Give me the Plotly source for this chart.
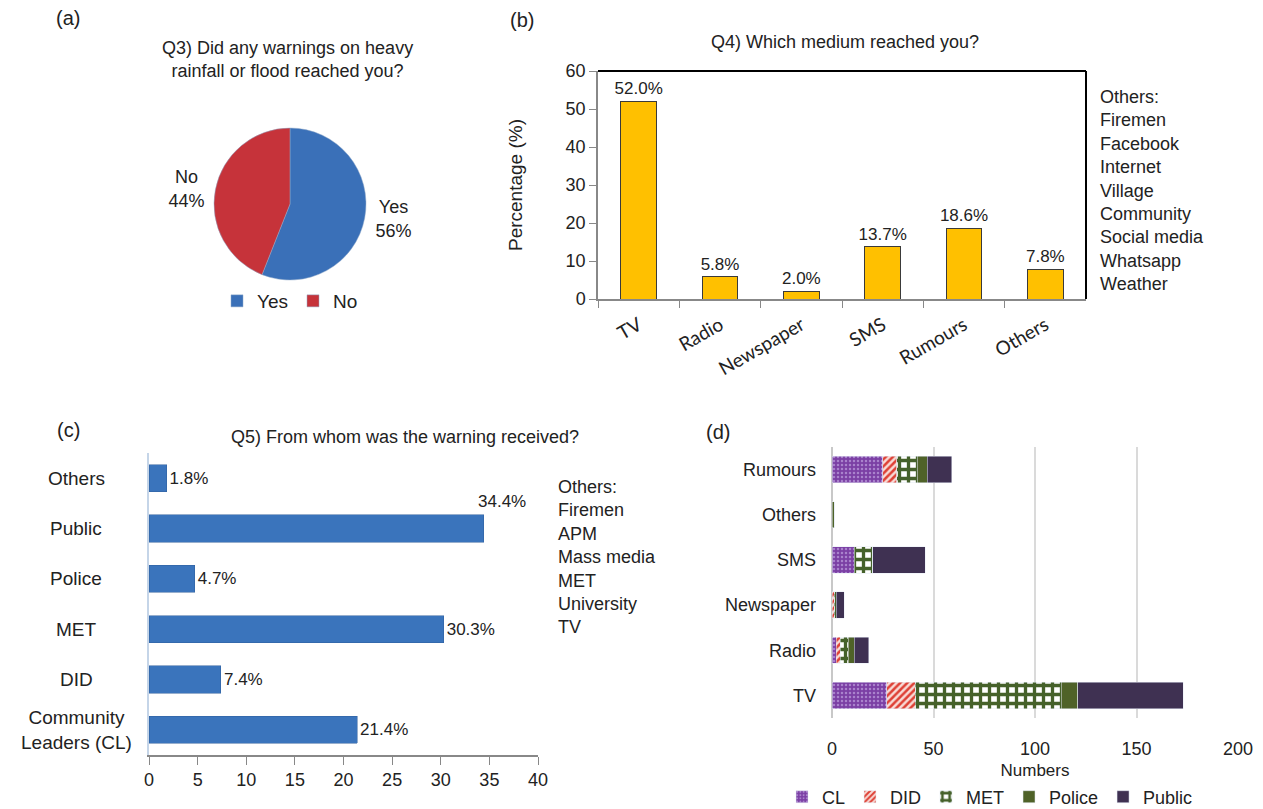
import plotly.graph_objects as go

W, H = 1263, 809

# ---------------- data ----------------
q3_labels = ["Yes", "No"]
q3_values = [56, 44]

q4_media = ["TV", "Radio", "Newspaper", "SMS", "Rumours", "Others"]
q4_pct = [52.0, 5.8, 2.0, 13.7, 18.6, 7.8]
q4_others = ["Others:", "Firemen", "Facebook", "Internet", "Village", "Community",
             "Social media", "Whatsapp", "Weather"]

q5_sources = ["Community<br>Leaders (CL)", "DID", "MET", "Police", "Public", "Others"]
q5_pct = [21.4, 7.4, 30.3, 4.7, 34.4, 1.8]
q5_others = ["Others:", "Firemen", "APM", "Mass media", "MET", "University", "TV"]

d_media = ["TV", "Radio", "Newspaper", "SMS", "Others", "Rumours"]
d_CL = [27, 2, 0, 11, 0, 25]
d_DID = [14, 2, 1, 0, 0, 7]
d_MET = [72, 4, 1, 9, 0, 10]
d_Police = [8, 3, 0, 0, 1, 5]
d_Public = [52, 7, 4, 26, 0, 12]

FONT = "Liberation Sans, Arial, sans-serif"


def px_x(p):
    return p / W


def px_y(p):
    return 1 - p / H


fig = go.Figure()

# ---------------- (a) pie ----------------
fig.add_trace(go.Pie(
    labels=q3_labels, values=q3_values,
    marker=dict(colors=["#3A70B8", "#C6333A"], line=dict(color="#8FA8C8", width=0.5)),
    sort=False, direction="clockwise", rotation=0,
    texttemplate="%{label}<br>%{percent:.0%}",
    textposition="outside",
    textfont=dict(family=FONT, size=18, color="#222"),
    domain=dict(x=[px_x(130), px_x(450)], y=[px_y(280), px_y(128)]),
    legend="legend", showlegend=True, hoverinfo="label+percent",
))

# ---------------- (b) vertical bars ----------------
fig.add_trace(go.Bar(
    x=q4_media, y=q4_pct, xaxis="x", yaxis="y",
    marker=dict(color="#FFC000", line=dict(color="#3a3a3a", width=1)),
    text=[f"{v:.1f}%" for v in q4_pct], textposition="outside", constraintext="none",
    textfont=dict(family=FONT, size=17, color="#222"),
    cliponaxis=False, showlegend=False, width=0.44,
))

# ---------------- (c) horizontal bars ----------------
c_text = [f"{v:.1f}%" if v != max(q5_pct) else "" for v in q5_pct]
fig.add_trace(go.Bar(
    y=q5_sources, x=q5_pct, orientation="h", xaxis="x2", yaxis="y2",
    marker=dict(color="#3A74BC", line=dict(color="#2D5E9C", width=0.5)),
    text=c_text, textposition="outside", constraintext="none",
    textfont=dict(family=FONT, size=17, color="#222"),
    cliponaxis=False, showlegend=False, width=0.54,
))

# ---------------- (d) stacked bars ----------------
d_series = [
    ("CL", d_CL, dict(color="#7B3FA4", pattern=dict(shape=".", fgcolor="#A982CC", fgopacity=1,
                                                     bgcolor="#7B3FA4", size=4, solidity=0.3))),
    ("DID", d_DID, dict(color="#E24B40", pattern=dict(shape="/", fgcolor="#DE4035", fgopacity=1,
                                                       bgcolor="#F8DAD5", size=5, solidity=0.5))),
    ("MET", d_MET, dict(color="#4E6B2A", pattern=dict(shape="+", fgcolor="#45612A", fgopacity=1,
                                                       bgcolor="#FFFFFF", size=9, solidity=0.6))),
    ("Police", d_Police, dict(color="#4F6228")),
    ("Public", d_Public, dict(color="#3F3152")),
]
for name, vals, mk in d_series:
    fig.add_trace(go.Bar(
        y=d_media, x=vals, orientation="h", name=name,
        xaxis="x3", yaxis="y3", marker=mk, width=0.58,
        legend="legend2", showlegend=True,
    ))

axis_font = dict(family=FONT, size=18, color="#222")

fig.update_layout(
    width=W, height=H,
    margin=dict(l=0, r=0, t=0, b=0, autoexpand=False),
    paper_bgcolor="white", plot_bgcolor="white",
    barmode="stack",
    font=dict(family=FONT, size=17, color="#222"),
    # (b)
    xaxis=dict(domain=[px_x(598), px_x(1086)], anchor="y",
               showline=True, linecolor="#888", linewidth=1.5,
               ticks="outside", tickson="boundaries", ticklen=7, tickcolor="#888",
               tickangle=-30, ticklabelstandoff=6,
               tickfont=dict(family="Lato, Open Sans, sans-serif", size=19, color="#222"),
               showgrid=False),
    yaxis=dict(domain=[px_y(299), px_y(71)], anchor="x", range=[0, 60], dtick=10,
               showline=True, linecolor="#888", linewidth=1.5,
               ticks="outside", ticklen=7, tickcolor="#888",
               tickfont=axis_font, showgrid=False, zeroline=False,
               title=dict(text="Percentage (%)", font=dict(family=FONT, size=19), standoff=38)),
    # (c)
    xaxis2=dict(domain=[px_x(149), px_x(538)], anchor="y2", range=[0, 40], dtick=5,
                showline=True, linecolor="#888", linewidth=1.5,
                ticks="outside", ticklen=8, tickcolor="#888",
                tickfont=axis_font, showgrid=False, zeroline=False),
    yaxis2=dict(domain=[px_y(755), px_y(453)], anchor="x2",
                showline=True, linecolor="#C5D5E8", linewidth=1.5,
                ticks="", showticklabels=False, showgrid=False),
    # (d)
    xaxis3=dict(domain=[px_x(832), px_x(1238)], anchor="y3", range=[0, 200], dtick=50,
                showline=False, showgrid=True, gridcolor="#DADADA", gridwidth=1.5,
                zeroline=True, zerolinecolor="#C8C8C8", zerolinewidth=1.5,
                tickfont=axis_font, ticks="", ticklabelstandoff=18,
                title=dict(text="Numbers", font=dict(family=FONT, size=17), standoff=6)),
    yaxis3=dict(domain=[px_y(718), px_y(447)], anchor="x3",
                showline=False, showgrid=False, ticks="", tickfont=axis_font,
                ticksuffix="   "),
    bargap=0.5,
    legend=dict(orientation="h", x=px_x(290), xanchor="center", y=px_y(301), yanchor="middle",
                font=dict(family=FONT, size=19), itemwidth=30, traceorder="normal",
                bgcolor="rgba(0,0,0,0)"),
    legend2=dict(orientation="h", x=px_x(990), xanchor="center", y=px_y(797), yanchor="middle",
                 font=dict(family=FONT, size=18), itemwidth=30, traceorder="normal",
                 bgcolor="rgba(0,0,0,0)"),
)

# black top/right frame of panel (b)
fig.add_shape(type="line", xref="x domain", yref="y domain", x0=0, x1=1, y0=1, y1=1,
              line=dict(color="black", width=2))
fig.add_shape(type="line", xref="x domain", yref="y domain", x0=1, x1=1, y0=0, y1=1,
              line=dict(color="black", width=2))

# 34.4% label above the Public bar
imax = q5_pct.index(max(q5_pct))
fig.add_annotation(x=q5_pct[imax], y=q5_sources[imax], xref="x2", yref="y2",
                   text=f"{q5_pct[imax]:.1f}%", showarrow=False, xanchor="left",
                   yshift=27, xshift=-8, font=dict(family=FONT, size=17, color="#222"))

# centred category labels of panel (c)
for cat in q5_sources:
    fig.add_annotation(x=px_x(76), xref="paper", y=cat, yref="y2", text=cat,
                       showarrow=False, xanchor="center", yanchor="middle", align="center",
                       font=dict(family=FONT, size=19, color="#222"))

ann = []
# panel letters and titles
for txt, x, y, size in [("(a)", 68, 18, 20), ("(b)", 522, 20, 20), ("(c)", 68, 430, 20), ("(d)", 718, 432, 20)]:
    ann.append(dict(text=txt, x=px_x(x), y=px_y(y), xref="paper", yref="paper",
                    xanchor="center", yanchor="middle",
                    showarrow=False, font=dict(family=FONT, size=size, color="#222")))
ann.append(dict(text="Q3) Did any warnings on heavy<br>rainfall or flood reached you?",
                x=px_x(287), y=px_y(60), xref="paper", yref="paper", showarrow=False,
                xanchor="center", yanchor="middle",
                font=dict(family=FONT, size=18, color="#222")))
ann.append(dict(text="Q4) Which medium reached you?", x=px_x(845), y=px_y(42),
                xref="paper", yref="paper", showarrow=False, xanchor="center", yanchor="middle",
                font=dict(family=FONT, size=18, color="#222")))
ann.append(dict(text="Q5) From whom was the warning received?", x=px_x(405), y=px_y(437),
                xref="paper", yref="paper", showarrow=False, xanchor="center", yanchor="middle",
                font=dict(family=FONT, size=18, color="#222")))
ann.append(dict(text="<br>".join(q4_others), x=px_x(1098), y=px_y(85), xref="paper", yref="paper",
                xanchor="left", yanchor="top", align="left", showarrow=False,
                font=dict(family=FONT, size=18, color="#222")))
ann.append(dict(text="<br>".join(q5_others), x=px_x(556), y=px_y(475), xref="paper", yref="paper",
                xanchor="left", yanchor="top", align="left", showarrow=False,
                font=dict(family=FONT, size=18, color="#222")))
for a in ann:
    fig.add_annotation(**a)

fig.write_html(
    "out.html",
    post_script="document.body.style.margin='0';document.body.style.overflow='hidden';",
)
